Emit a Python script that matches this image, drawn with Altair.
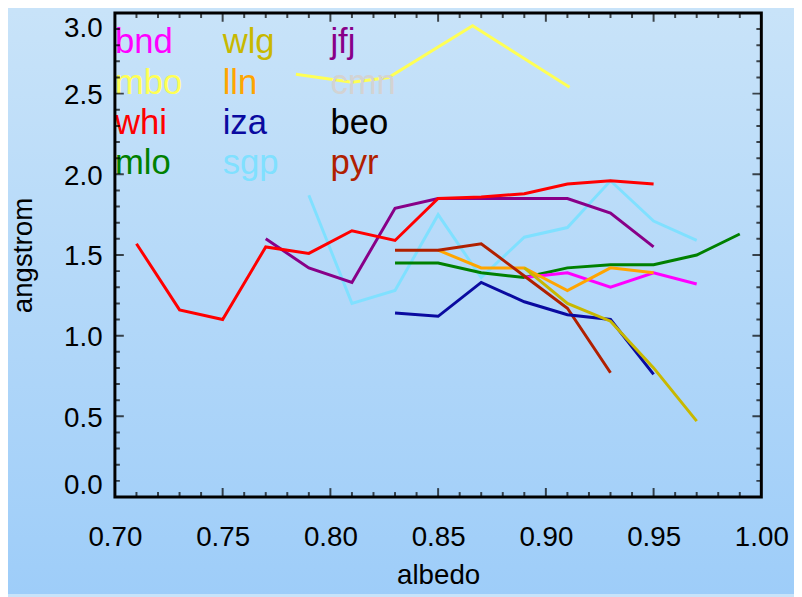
import altair as alt
import pandas as pd
import numpy as np

W, H = 653, 489

# ---- data ----
sites = ["bnd", "mbo", "whi", "mlo", "wlg", "lln", "iza", "sgp", "jfj", "cmn", "beo", "pyr"]
site_colors = ["#ff00ff", "#ffff55", "#ff0000", "#008000", "#c8b800", "#ffa500",
               "#0a0aa0", "#80e0ff", "#880088", "#d3d3d3", "#000000", "#b02000"]

mbo_x = [0.784, 0.81, 0.827, 0.866, 0.911]
mbo_y = [2.62, 2.57, 2.60, 2.92, 2.54]
sgp_x = [0.79, 0.81, 0.83, 0.85, 0.87, 0.89, 0.91, 0.93, 0.95, 0.97]
sgp_y = [1.87, 1.20, 1.28, 1.75, 1.36, 1.61, 1.67, 1.96, 1.71, 1.59]
jfj_x = [0.77, 0.79, 0.81, 0.83, 0.85, 0.87, 0.89, 0.91, 0.93, 0.95]
jfj_y = [1.60, 1.42, 1.33, 1.79, 1.85, 1.85, 1.85, 1.85, 1.76, 1.55]
whi_x = [0.71, 0.73, 0.75, 0.77, 0.79, 0.81, 0.83, 0.85, 0.87, 0.89, 0.91, 0.93, 0.95]
whi_y = [1.57, 1.16, 1.10, 1.55, 1.51, 1.65, 1.59, 1.85, 1.86, 1.88, 1.94, 1.96, 1.94]
mlo_x = [0.83, 0.85, 0.87, 0.89, 0.91, 0.93, 0.95, 0.97, 0.99]
mlo_y = [1.45, 1.45, 1.39, 1.36, 1.42, 1.44, 1.44, 1.50, 1.63]
bnd_x = [0.89, 0.91, 0.93, 0.95, 0.97]
bnd_y = [1.36, 1.39, 1.30, 1.39, 1.32]
lln_x = [0.85, 0.87, 0.89, 0.91, 0.93, 0.95]
lln_y = [1.53, 1.42, 1.42, 1.28, 1.42, 1.39]
pyr_x = [0.83, 0.85, 0.87, 0.89, 0.91, 0.93]
pyr_y = [1.53, 1.53, 1.57, 1.37, 1.17, 0.77]
iza_x = [0.83, 0.85, 0.87, 0.89, 0.91, 0.93, 0.95]
iza_y = [1.14, 1.12, 1.33, 1.21, 1.13, 1.10, 0.76]
wlg_x = [0.89, 0.91, 0.93, 0.95, 0.97]
wlg_y = [1.42, 1.20, 1.09, 0.80, 0.47]

x_labels = [0.70, 0.75, 0.80, 0.85, 0.90, 0.95, 1.00]
y_labels = [0.0, 0.5, 1.0, 1.5, 2.0, 2.5, 3.0]

# ---- tables ----
draw_order = [("mbo", mbo_x, mbo_y), ("sgp", sgp_x, sgp_y), ("jfj", jfj_x, jfj_y),
              ("whi", whi_x, whi_y), ("mlo", mlo_x, mlo_y), ("bnd", bnd_x, bnd_y),
              ("lln", lln_x, lln_y), ("pyr", pyr_x, pyr_y), ("iza", iza_x, iza_y),
              ("wlg", wlg_x, wlg_y)]
rows = []
for k, (name, xs, ys) in enumerate(draw_order):
    for i, (a, b) in enumerate(zip(xs, ys)):
        rows.append({"site": name, "albedo": a, "angstrom": b, "k": k, "i": i})
lines_df = pd.DataFrame(rows)

leg_df = pd.DataFrame({"site": sites})
leg_df["col"] = [i // 4 for i in range(len(sites))]
leg_df["row"] = [i % 4 for i in range(len(sites))]
leg_df["lx"] = 0.70 + 0.05 * leg_df["col"]
leg_df["ly"] = 2.75 - 0.25 * leg_df["row"]

x_minor = [v for v in np.round(np.arange(0.70, 1.0001, 0.01), 2) if v not in x_labels]
y_minor = [v for v in np.round(np.arange(0.0, 3.0001, 0.1), 1) if v not in y_labels]

xscale = alt.Scale(domain=[0.70, 1.00], nice=False, zero=False)
yscale = alt.Scale(domain=[0.0, 3.0], nice=False, zero=False)
cscale = alt.Scale(domain=sites, range=site_colors)

FONT = "Liberation Sans"

bg = alt.Chart(pd.DataFrame({"a": [0]})).mark_rect(
    fill=alt.Gradient(gradient="linear",
                      stops=[alt.GradientStop(color="#c8e3f9", offset=0),
                             alt.GradientStop(color="#9ecdf9", offset=1)],
                      x1=0, x2=0, y1=0, y2=1)
).encode(x=alt.value(-108), x2=alt.value(W + 33), y=alt.value(-2), y2=alt.value(H + 98))

lines = alt.Chart(lines_df).mark_line(strokeWidth=3, clip=True).encode(
    x=alt.X("albedo:Q", scale=xscale,
            axis=alt.Axis(values=x_labels, format=".2f", title="albedo", ticks=False,
                          domain=False, grid=False, labelPadding=27, labelFlush=False,
                          labelFontSize=28, labelFont=FONT, labelColor="black",
                          titleFontSize=28, titleFont=FONT, titleFontWeight="normal",
                          titleColor="black", titleX=W / 2, titleY=79,
                          titleBaseline="middle", titleAlign="center", zindex=2)),
    y=alt.Y("angstrom:Q", scale=yscale,
            axis=alt.Axis(values=y_labels, format=".1f", title="angstrom", ticks=False,
                          domain=False, grid=False, labelPadding=13,
                          labelFlush=True, labelOffset=2,
                          labelFontSize=28, labelFont=FONT, labelColor="black",
                          titleFontSize=28, titleFont=FONT, titleFontWeight="normal",
                          titleColor="black", titleX=-92, titleY=H / 2,
                          titleAngle=-90, titleBaseline="middle", titleAlign="center",
                          zindex=2)),
    color=alt.Color("site:N", scale=cscale, legend=None),
    detail="k:N",
    order="i:Q",
)

legend = alt.Chart(leg_df).mark_text(align="left", baseline="alphabetic", fontSize=35,
                                     font=FONT).encode(
    x=alt.X("lx:Q", scale=xscale),
    y=alt.Y("ly:Q", scale=yscale),
    text="site:N",
    color=alt.Color("site:N", scale=cscale, legend=None),
)


def ticks(vals, channel, pos, length):
    df = pd.DataFrame({"v": vals})
    if channel == "x":
        enc = dict(x=alt.X("v:Q", scale=xscale), y=alt.value(pos))
    else:
        enc = dict(y=alt.Y("v:Q", scale=yscale), x=alt.value(pos))
    return alt.Chart(df).mark_tick(color="black", thickness=2, size=2 * length,
                                   clip=True).encode(**enc)


tick_layers = [
    ticks(x_labels, "x", H, 9), ticks(x_minor, "x", H, 5),
    ticks(x_labels, "x", 0, 9), ticks(x_minor, "x", 0, 5),
    ticks(y_labels, "y", 0, 9), ticks(y_minor, "y", 0, 5),
    ticks(y_labels, "y", W, 9), ticks(y_minor, "y", W, 5),
]

frame = alt.Chart(pd.DataFrame({"a": [0]})).mark_rect(
    fill=None, stroke="black", strokeWidth=3
).encode(x=alt.value(0), x2=alt.value(W), y=alt.value(0), y2=alt.value(H))

chart = alt.layer(bg, lines, legend, *tick_layers, frame).properties(
    width=W, height=H,
    autosize=alt.AutoSizeParams(type="none"),
    padding={"left": 108, "top": 2, "right": 33, "bottom": 98},
).configure_view(stroke=None).configure(background="#c8e3f9")

chart.save("out.html", embed_options={"renderer": "svg", "actions": False})
